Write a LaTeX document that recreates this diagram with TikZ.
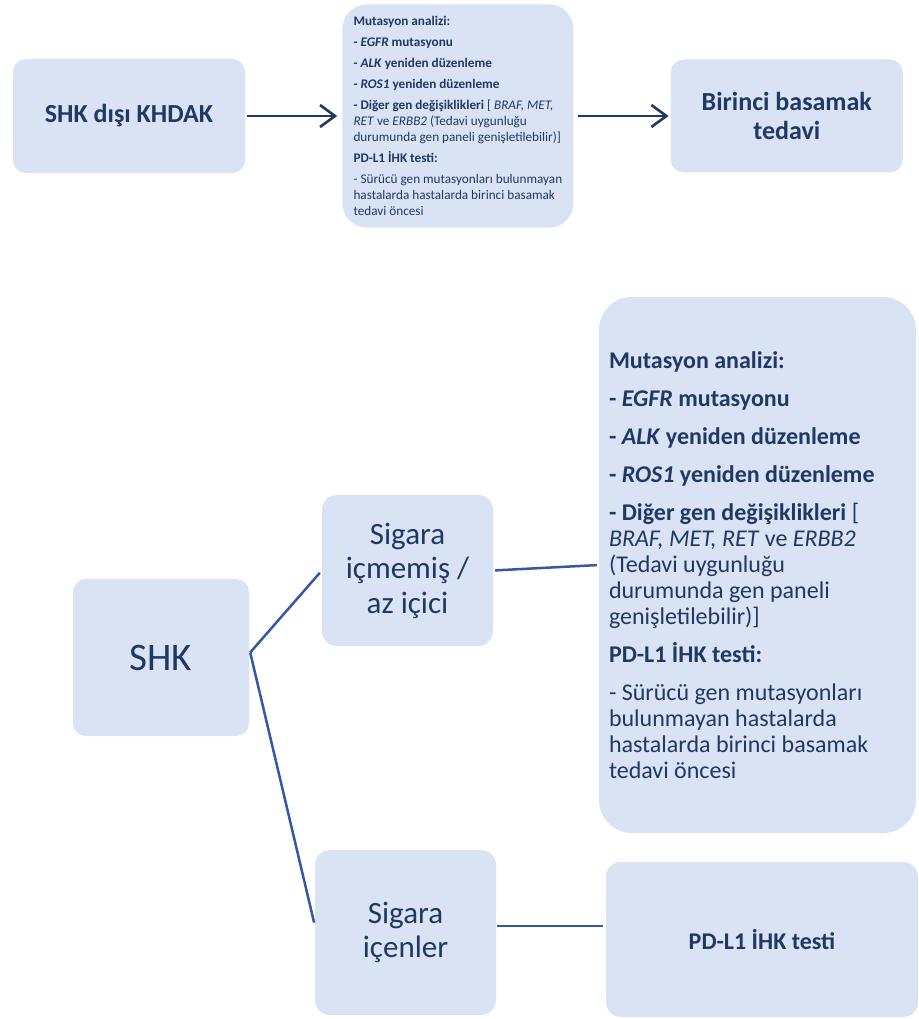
\documentclass[tikz,border=0pt]{standalone}
\usepackage{fontspec}
\setmainfont{Carlito}
\usepackage{tikz}
\usetikzlibrary{positioning,arrows.meta,calc}

\definecolor{boxfill}{RGB}{218,227,243}
\definecolor{navy}{RGB}{31,56,100}
\definecolor{linkblue}{RGB}{52,88,165}

\begin{document}
\begin{tikzpicture}[
      x=1pt, y=-1pt,
      auto
    ]

    \tikzstyle{box} = [rectangle, rounded corners=13pt, fill=boxfill, text=navy, inner sep=0pt, align=center]

    \tikzstyle{arrow} = [line width=2.6pt, draw=navy, -{Straight Barb[length=15pt,width=22pt]}]

    \tikzstyle{link} = [line width=2.5pt, draw=linkblue]

    \fill [white] (0,0) rectangle (918,1019);
    \useasboundingbox (0,0) rectangle (918,1019);

    % top row
    \node [box, minimum width=232pt, minimum height=114pt, font=\fontsize{26}{29}\selectfont\bfseries] (khdak) at (129,116) {SHK dışı KHDAK};
    \node [box, rounded corners=24pt, minimum width=231pt, minimum height=223pt, align=flush left, font=\fontsize{13.2}{16}\selectfont, right=97pt of khdak] (mutTop) {
        \textbf{Mutasyon analizi:}\\[5pt]
        \textbf{- \textit{EGFR} mutasyonu}\\[5pt]
        \textbf{- \textit{ALK} yeniden düzenleme}\\[5pt]
        \textbf{- \textit{ROS1} yeniden düzenleme}\\[5pt]
        \textbf{- Diğer gen değişiklikleri} [ \textit{BRAF, MET,}\\
        \textit{RET} ve \textit{ERBB2} (Tedavi uygunluğu\\
        durumunda gen paneli genişletilebilir)]\\[5pt]
        \textbf{PD-L1 İHK testi:}\\[5pt]
        - Sürücü gen mutasyonları bulunmayan\\
        hastalarda hastalarda birinci basamak\\
        tedavi öncesi
        };
    \node [box, minimum width=232pt, minimum height=113pt, font=\fontsize{26}{29}\selectfont\bfseries, right=97pt of mutTop] (firstLine) {
        Birinci basamak\\tedavi
        };

    % lower tree
    \node [box, minimum width=176pt, minimum height=157pt, font=\fontsize{39}{44}\selectfont] (shk) at (161,657.5) {SHK};
    \node [box, rounded corners=15pt, minimum width=171pt, minimum height=151pt, font=\fontsize{31}{34.5}\selectfont] (nonSmoker) at (407.5,570.5) {
        Sigara\\içmemiş /\\az içici
        };
    \node [box, rounded corners=15pt, minimum width=181pt, minimum height=165pt, font=\fontsize{31}{34}\selectfont] (smoker) at (405.5,932.5) {
        Sigara\\içenler
        };
    \node [box, rounded corners=33pt, minimum width=317pt, minimum height=536pt, text width=297pt, align=flush left, font=\fontsize{24}{26}\selectfont] (mutBig) at (757.5,565) {
        \textbf{Mutasyon analizi:}\\[12pt]
        \textbf{- \textit{EGFR} mutasyonu}\\[12pt]
        \textbf{- \textit{ALK} yeniden düzenleme}\\[12pt]
        \textbf{- \textit{ROS1} yeniden düzenleme}\\[12pt]
        \textbf{- Diğer gen değişiklikleri} [\\
        \textit{BRAF, MET, RET} ve \textit{ERBB2}\\
        (Tedavi uygunluğu\\
        durumunda gen paneli\\
        genişletilebilir)]\\[12pt]
        \textbf{PD-L1 İHK testi:}\\[12pt]
        - Sürücü gen mutasyonları\\
        bulunmayan hastalarda\\
        hastalarda birinci basamak\\
        tedavi öncesi
        };
    \node [box, rounded corners=15pt, minimum width=312pt, minimum height=155pt, font=\fontsize{24}{28}\selectfont\bfseries] (pdlOne) at (762,939.5) {PD-L1 İHK testi};

    \coordinate (fork) at ([xshift=1pt, yshift=5pt]shk.east);

    \draw [arrow, shorten <=2pt, shorten >=5pt] (khdak) -- (mutTop);
    \draw [arrow, shorten <=4pt, shorten >=2pt] (mutTop) -- (firstLine);

    \draw [link, shorten >=3pt] (fork) -- (nonSmoker.west);
    \draw [link, shorten >=3pt] (fork) -- ([yshift=7pt]smoker.west);
    \draw [link, shorten <=2pt, shorten >=2pt] (nonSmoker.east) -- (mutBig.west);
    \draw [link, shorten <=1pt, shorten >=3pt] ([yshift=6.5pt]smoker.east) -- ([yshift=13.5pt]pdlOne.west);

\end{tikzpicture}
\end{document}
